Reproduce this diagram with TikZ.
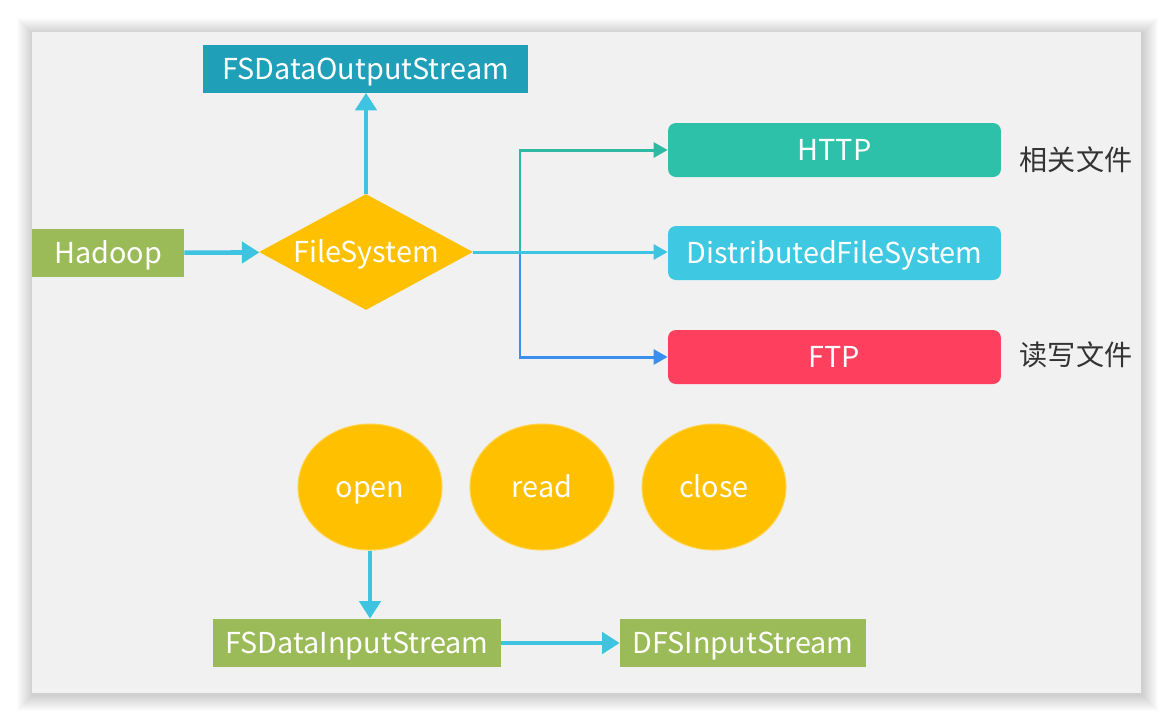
\documentclass[tikz,border=0pt]{standalone}
\usepackage{fontspec}
\setmainfont{Noto Sans CJK SC}
\usetikzlibrary{shapes.geometric,arrows.meta}

\definecolor{panelbg}{HTML}{F1F1F1}
\definecolor{outblue}{HTML}{1F9FB8}
\definecolor{lineblue}{HTML}{3EC3E0}
\definecolor{leafgreen}{HTML}{9BBB59}
\definecolor{gold}{HTML}{FFC000}
\definecolor{httpteal}{HTML}{2EC1AA}
\definecolor{tealline}{HTML}{2DB9A3}
\definecolor{dfsblue}{HTML}{3EC8E2}
\definecolor{ftpred}{HTML}{FE3F5E}
\definecolor{ftpline}{HTML}{3A8EEE}
\definecolor{notegray}{HTML}{333333}

\begin{document}
\begin{tikzpicture}[x=0.02cm, y=-0.02cm,
  label font/.style={font=\fontsize{16.4pt}{19pt}\selectfont,
    text height=15.5pt, text depth=3.5pt},
  flatbox/.style={rectangle, inner sep=0pt, text=white, label font},
  roundbox/.style={rectangle, rounded corners=4.5pt, inner sep=0pt, text=white,
    label font, minimum width=6.66cm, minimum height=1.08cm},
  decision/.style={diamond, inner sep=0pt, fill=gold, text=white, label font,
    shape aspect=1.845, minimum width=4.28cm, minimum height=2.32cm},
  oval/.style={ellipse, inner sep=0pt, fill=gold, draw=gold!70!white, line width=0.6pt,
    text=white, minimum width=2.88cm, minimum height=2.52cm,
    font=\fontsize{16.4pt}{19pt}\selectfont, text height=13pt, text depth=1pt},
  note/.style={text=notegray, font=\fontsize{16pt}{19pt}\selectfont},
  thick arrow/.style={line width=2.6pt, -{Triangle[length=10pt,width=12pt]}},
  thin arrow/.style={line width=1.7pt, -{Triangle[length=8pt,width=8.5pt]}}]

% page and panel with a soft shadow
\useasboundingbox (0,0) rectangle (1174,725);
\fill[white] (0,0) rectangle (1174,725);
\foreach \i in {1,...,16}{
  \fill[black, opacity=0.011] (32-\i+1,32-\i+2) rectangle (1141+\i+1,693+\i+2);
}
\fill[panelbg] (32,32) rectangle (1141,693);

% nodes
\node[flatbox, fill=outblue, minimum width=6.52cm, minimum height=0.96cm]
  (fsout) at (365.5,68.5) {FSDataOutputStream};
\node[flatbox, fill=leafgreen, minimum width=3.04cm, minimum height=0.96cm]
  (hadoop) at (108,253) {Hadoop};
\node[decision] (fs) at (366,252) {FileSystem};

\node[roundbox, fill=httpteal] (http) at (834.5,150) {HTTP};
\node[roundbox, fill=dfsblue] (dfs) at (834.5,253) {DistributedFileSystem};
\node[roundbox, fill=ftpred] (ftp) at (834.5,357) {FTP};

\node[note] (n1) at (1076,160) {相关文件};
\node[note] (n2) at (1076,355) {读写文件};

\node[oval] (open) at (370,487) {open};
\node[oval] (read) at (542,487) {read};
\node[oval] (close) at (714,487) {close};

\node[flatbox, fill=leafgreen, minimum width=5.76cm, minimum height=0.96cm]
  (fsin) at (357,643) {FSDataInputStream};
\node[flatbox, fill=leafgreen, minimum width=4.92cm, minimum height=0.96cm]
  (dfsin) at (743,643) {DFSInputStream};

% connectors
\coordinate (split) at (520,252);
\draw[thick arrow, lineblue] (hadoop) -- (fs);
\draw[thick arrow, lineblue] (fs.north) -- (fs.north |- fsout.south);
\draw[thin arrow, tealline] (split) |- (http.west);
\draw[thin arrow, ftpline] (split) |- (ftp.west);
\draw[thin arrow, lineblue] (fs.east) -- (fs.east -| dfs.west);
\draw[thick arrow, lineblue] (open.south) -- (open.south |- fsin.north);
\draw[thick arrow, lineblue] (fsin) -- (dfsin);

\end{tikzpicture}
\end{document}
